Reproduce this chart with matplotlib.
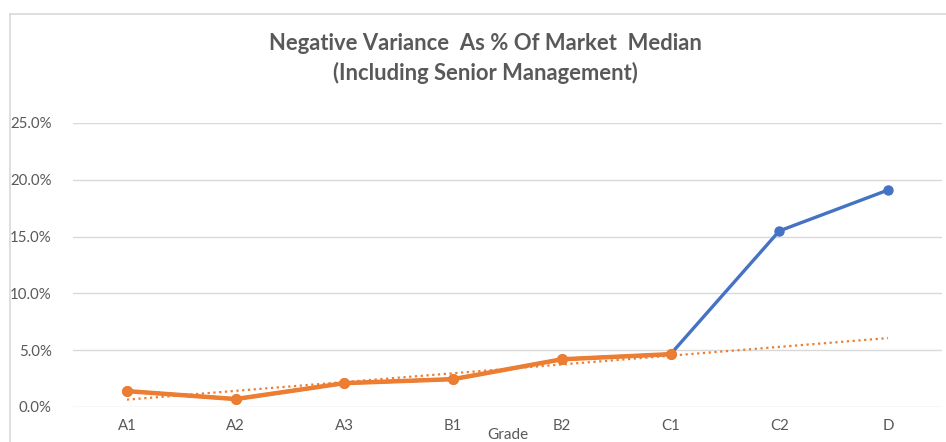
import numpy as np
import matplotlib.pyplot as plt
from matplotlib.lines import Line2D
from matplotlib.ticker import PercentFormatter

plt.rcParams['font.family'] = ['Lato', 'DejaVu Sans']

# data (percent)
grades = ['A1', 'A2', 'A3', 'B1', 'B2', 'C1', 'C2', 'D']
all_staff = [1.4, 0.7, 2.1, 2.45, 4.2, 4.65, 15.5, 19.1]
excl_senior = [1.4, 0.7, 2.1, 2.45, 4.2, 4.65]

blue = '#4472C4'
orange = '#ED7D31'
grey_text = '#595959'

fig = plt.figure(figsize=(9.46, 4.42), dpi=100)
ax = fig.add_axes([72.6 / 946, 35 / 442, (942.4 - 72.6) / 946, 284 / 442])

x_all = np.arange(len(grades))
x_or = np.arange(len(excl_senior))

ax.plot(x_all, all_staff, color=blue, lw=2.4, marker='o', ms=6.5, zorder=3)
ax.plot(x_or, excl_senior, color=orange, lw=3.2, marker='o', ms=7, zorder=4)

# linear trendline of the orange series, forecast out to D
slope, icpt = np.polyfit(x_or, excl_senior, 1)
ax.plot(x_all, icpt + slope * x_all, color=orange, lw=1.6, ls=(0, (1, 1.6)), zorder=2)

ax.set_xlim(-0.5, len(grades) - 0.5)
ax.set_ylim(0, 25)
ax.set_yticks([0, 5, 10, 15, 20, 25])
ax.yaxis.set_major_formatter(PercentFormatter(decimals=1))
ax.set_xticks(x_all)
ax.set_xticklabels(grades)
ax.grid(axis='y', color='#D9D9D9', lw=1)
ax.set_axisbelow(True)
for s in ax.spines.values():
    s.set_visible(False)
ax.tick_params(length=0, colors=grey_text, labelsize=10.8, pad=9)
ax.tick_params(axis='y', pad=15)
ax.set_xlabel('Grade', color=grey_text, fontsize=11, labelpad=-4)

fig.text(485 / 946, 1 - 44 / 442, 'Negative Variance  As % Of Market  Median',
         ha='center', va='center', fontsize=15.8, fontweight='bold', color=grey_text)
fig.text(485 / 946, 1 - 73 / 442, '(Including Senior Management)',
         ha='center', va='center', fontsize=15.8, fontweight='bold', color=grey_text)

# chart area border (top and left edges visible)
fig.add_artist(Line2D([10 / 946, 10 / 946], [0, 1 - 14 / 442], color='#D9D9D9', lw=1.2))
fig.add_artist(Line2D([10 / 946, 1], [1 - 14 / 442, 1 - 14 / 442], color='#D9D9D9', lw=1.2))

fig.savefig('out.png', dpi=100)
